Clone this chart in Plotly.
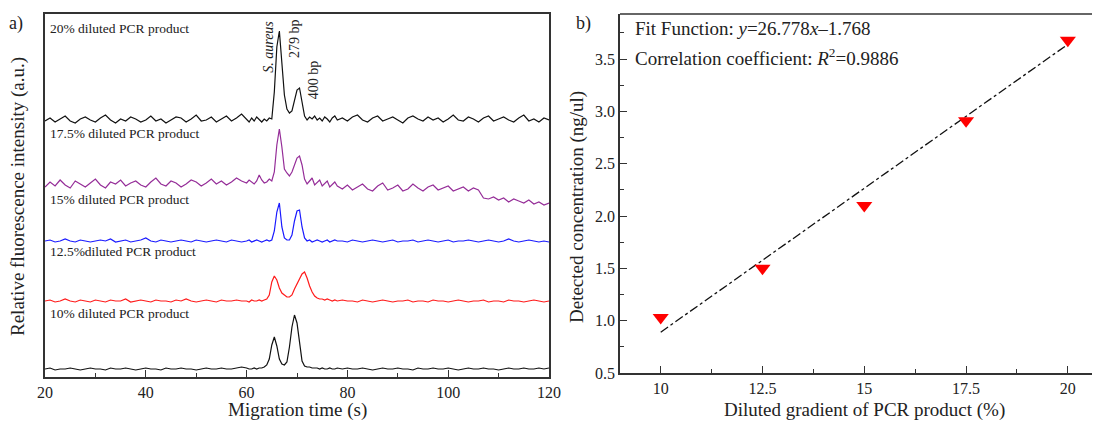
import plotly.graph_objects as go

# migration time grid (s): 1 s steps outside the peak window, 0.5 s inside
t = [20, 21, 22, 23, 24, 25, 26, 27, 28, 29, 30, 31, 32, 33, 34, 35, 36, 37, 38, 39,
     40, 41, 42, 43, 44, 45, 46, 47, 48, 49, 50, 51, 52, 53, 54, 55, 56, 57, 58, 59,
     60, 60.5, 61, 61.5, 62, 62.5, 63, 63.5, 64, 64.5, 65, 65.5, 66, 66.5, 67, 67.5,
     68, 68.5, 69, 69.5, 70, 70.5, 71, 71.5, 72, 72.5, 73, 73.5, 74, 74.5, 75, 75.5,
     76, 76.5, 77, 77.5, 78,
     79, 80, 81, 82, 83, 84, 85, 86, 87, 88, 89, 90, 91, 92, 93, 94, 95, 96, 97, 98,
     99, 100, 101, 102, 103, 104, 105, 106, 107, 108, 109, 110, 111, 112, 113, 114,
     115, 116, 117, 118, 119, 120]

# stacked electropherograms (offset included, arbitrary units)
y_20 = [256, 259, 255, 258, 261, 256, 254, 258, 260, 257, 255, 259, 262, 257, 254, 258, 256, 260, 258, 255,
        257, 261, 256, 258, 254, 257, 260, 259, 255, 258, 262, 256, 257, 260, 255, 258, 261, 256, 259, 263,
        258, 255, 259, 256, 260, 257, 255, 258, 256, 259, 258, 285, 330, 346, 312, 282, 268, 264, 266, 276,
        287, 289, 274, 261, 257, 260, 258, 261, 257, 259, 256, 260, 258, 255, 259, 261, 257,
        259, 256, 260, 262, 257, 255, 259, 261, 256, 258, 260, 257, 254, 259, 261, 258, 256, 260, 257, 259,
        255, 258, 262, 257, 256, 260, 258, 255, 259, 261, 256, 258, 260, 257, 255, 259, 262, 256, 258, 255,
        259, 257]
y_175 = [190, 195, 191, 197, 192, 189, 196, 193, 190, 194, 198, 192, 189, 195, 193, 197, 191, 194, 196, 192,
         190, 195, 199, 193, 191, 196, 194, 190, 193, 197, 195, 191, 194, 198, 193, 196, 192, 195, 199, 196,
         194, 197, 195, 193, 196, 202, 197, 194, 195, 198, 196, 205, 232, 248, 230, 208, 204, 201, 205, 212,
         219, 221, 212, 198, 193, 196, 199, 192, 195, 197, 191, 194, 196, 190, 193, 195, 191,
         188, 192, 187, 190, 193, 188, 186, 191, 194, 187, 189, 192, 186, 188, 193, 189, 186, 190, 192, 187,
         189, 191, 186, 188, 190, 186, 189, 187, 179, 178, 180, 177, 179, 175, 178, 176, 174, 177, 173, 175,
         172, 174]
y_15 = [136, 137, 135, 136, 138, 136, 135, 137, 136, 135, 136, 137, 136, 138, 135, 136, 137, 135, 136, 137,
        139, 136, 135, 137, 136, 135, 136, 137, 136, 135, 137, 136, 135, 136, 137, 136, 135, 137, 136, 135,
        136, 137, 135, 136, 137, 136, 135, 136, 137, 136, 137, 146, 165, 174, 150, 139, 137, 137, 142, 156,
        166, 167, 150, 139, 136, 137, 135, 136, 137, 136, 135, 136, 137, 135, 136, 137, 136,
        136, 135, 137, 136, 135, 136, 137, 136, 135, 136, 137, 135, 136, 136, 137, 135, 136, 137, 136, 135,
        136, 137, 135, 136, 136, 137, 136, 135, 136, 137, 136, 135, 136, 138, 136, 135, 136, 137, 136, 135,
        136, 135]
y_125 = [76, 77, 75, 76, 78, 76, 75, 77, 76, 75, 77, 76, 75, 77, 76, 76, 78, 75, 76, 77,
         76, 75, 77, 76, 76, 75, 77, 76, 78, 76, 75, 76, 77, 76, 75, 77, 76, 76, 77, 76,
         76, 75, 77, 76, 76, 77, 76, 77, 78, 82, 95, 101, 97, 89, 84, 82, 80, 80, 82, 88,
         93, 99, 103, 105, 99, 91, 85, 81, 79, 78, 78, 77, 78, 77, 76, 77, 76,
         77, 76, 76, 75, 77, 76, 75, 76, 77, 76, 75, 76, 76, 77, 75, 76, 76, 75, 77, 76,
         76, 75, 76, 77, 76, 75, 76, 76, 77, 75, 76, 76, 75, 77, 76, 76, 75, 76, 77, 76,
         75, 76]
y_10 = [8, 9, 7, 8, 8, 9, 8, 7, 8, 9, 8, 8, 7, 9, 8, 8, 9, 8, 7, 8,
        9, 8, 8, 7, 9, 8, 8, 9, 8, 8, 7, 8, 9, 8, 8, 9, 8, 8, 9, 10,
        9, 8, 8, 9, 8, 9, 9, 10, 12, 18, 32, 40, 31, 18, 13, 12, 15, 30, 50, 62,
        54, 32, 16, 11, 10, 10, 9, 9, 9, 8, 9, 8, 8, 9, 8, 8, 9,
        8, 9, 8, 8, 9, 8, 7, 8, 9, 8, 8, 9, 8, 8, 7, 9, 8, 8, 9, 8,
        8, 9, 8, 7, 8, 9, 8, 8, 9, 8, 8, 7, 8, 9, 8, 8, 9, 8, 8, 9,
        8, 9]

trace_names = ["20% diluted PCR product", "17.5% diluted PCR product", "15% diluted PCR product",
               "12.5%diluted PCR product", "10% diluted PCR product"]
trace_colors = ["#111111", "#952d98", "#1a1aff", "#ff1a1a", "#111111"]
label_y = [349, 244, 178, 126, 64]

# panel b data
gradient = [10, 12.5, 15, 17.5, 20]
detected = [1.03, 1.50, 2.10, 2.91, 3.68]
fit_x = [10, 20]
fit_y = [0.89, 3.64]

FONT = "Liberation Serif, Times New Roman, serif"
TXT = "#222222"
OFF = 8  # page body margin


def px_(pix):
    return (pix - OFF) / 1100


def py(pix):
    return (377 - pix) / 363


fig = go.Figure()

for ys, name, col in zip([y_20, y_175, y_15, y_125, y_10], trace_names, trace_colors):
    fig.add_trace(go.Scatter(x=t, y=ys, mode="lines", name=name,
                             line=dict(color=col, width=1.2), xaxis="x", yaxis="y"))

fig.add_trace(go.Scatter(x=fit_x, y=fit_y, mode="lines",
                         line=dict(color="#111111", width=1.3, dash="dashdot"),
                         xaxis="x2", yaxis="y2"))
fig.add_trace(go.Scatter(x=gradient, y=detected, mode="markers",
                         marker=dict(symbol="triangle-down", size=14, color="#ff0000"),
                         xaxis="x2", yaxis="y2"))

axis_common = dict(showline=True, linecolor="#333333", linewidth=1.5, ticks="inside",
                   tickcolor="#333333", tickwidth=1.3, ticklen=7, showgrid=False, zeroline=False,
                   automargin=False, tickfont=dict(family=FONT, size=16, color=TXT))

fig.update_layout(
    width=1100, height=425,
    margin=dict(l=0, r=0, t=14 - OFF, b=425 - (377 - OFF)),
    plot_bgcolor="white", paper_bgcolor="white",
    showlegend=False,
    xaxis=dict(domain=[px_(45), px_(549)], range=[20, 120], dtick=20, tick0=20, mirror=True,
               minor=dict(ticks="inside", ticklen=4, dtick=10, tickcolor="#333333"),
               anchor="y", **axis_common),
    yaxis=dict(domain=[0, 1], range=[0, 363], showline=True, linecolor="#333333", linewidth=1.5,
               mirror=True, showticklabels=False, ticks="", showgrid=False, zeroline=False,
               automargin=False, anchor="x"),
    xaxis2=dict(domain=[px_(620), px_(1100)], range=[9.0, 20.79], tickvals=gradient,
                ticktext=["10", "12.5", "15", "17.5", "20"], mirror=False,
                minor=dict(ticks="inside", ticklen=4, tickvals=[11.25, 13.75, 16.25, 18.75], tickcolor="#333333"),
                anchor="y2", **axis_common),
    yaxis2=dict(domain=[py(373), 1.0], range=[0.5, 3.93], dtick=0.5, tick0=0.5, tickformat=".1f",
                minor=dict(ticks="inside", ticklen=4, dtick=0.25, tickcolor="#333333"),
                anchor="x2", **axis_common),
)

# top border of panel b
fig.add_shape(type="line", xref="x2 domain", yref="y2 domain", x0=0, x1=1, y0=1, y1=1,
              line=dict(color="#333333", width=1.5))

# axis titles
titles = [
    ("Migration time (s)", 297, 410, 0),
    ("Relative fluorescence intensity (a.u.)", 18, 197, -90),
    ("Diluted gradient of PCR product (%)", 864, 410, 0),
    ("Detected concentration (ng/ul)", 577, 207, -90),
]
for txt, xp, yp, ang in titles:
    fig.add_annotation(x=px_(xp), y=py(yp), xref="paper", yref="paper", text=txt, textangle=ang,
                       showarrow=False, xanchor="center", yanchor="middle",
                       font=dict(family=FONT, size=19, color=TXT))

for name, yv in zip(trace_names, label_y):
    fig.add_annotation(x=20.6, y=yv, xref="x", yref="y", text=name, showarrow=False,
                       xanchor="left", yanchor="middle", font=dict(family=FONT, size=13.5, color=TXT))

fig.add_annotation(x=64.2, y=330, xref="x", yref="y", text="<i>S. aureus</i>", textangle=-90,
                   showarrow=False, font=dict(family=FONT, size=14, color=TXT))
fig.add_annotation(x=69.4, y=339, xref="x", yref="y", text="279 bp", textangle=-90,
                   showarrow=False, font=dict(family=FONT, size=14, color=TXT))
fig.add_annotation(x=73.2, y=297, xref="x", yref="y", text="400 bp", textangle=-90,
                   showarrow=False, font=dict(family=FONT, size=14, color=TXT))

for lab, xp in [("a)", 16), ("b)", 583)]:
    fig.add_annotation(x=px_(xp), y=py(23), xref="paper", yref="paper", text=lab,
                       showarrow=False, xanchor="center", yanchor="middle",
                       font=dict(family=FONT, size=18, color=TXT))

fig.add_annotation(x=9.32, y=3.79, xref="x2", yref="y2", xanchor="left", yanchor="middle", showarrow=False,
                   text="Fit Function: <i>y</i>=26.778<i>x</i>\u20131.768",
                   font=dict(family=FONT, size=19, color=TXT))
fig.add_annotation(x=9.32, y=3.515, xref="x2", yref="y2", xanchor="left", yanchor="middle", showarrow=False,
                   text="Correlation coefficient: <i>R</i><sup>2</sup>=0.9886",
                   font=dict(family=FONT, size=19, color=TXT))

fig.write_html("out.html")
